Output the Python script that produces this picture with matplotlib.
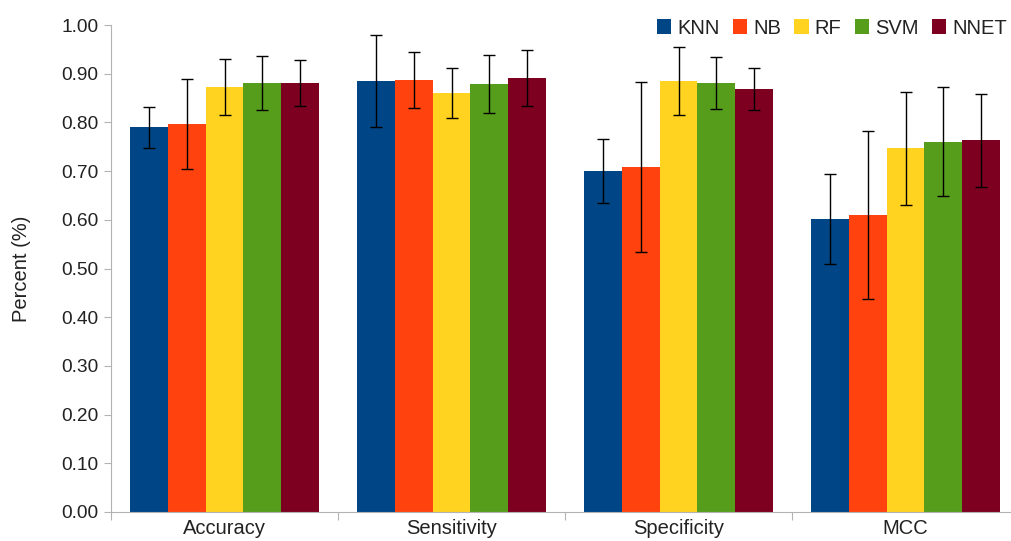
import numpy as np
import matplotlib
matplotlib.use("Agg")
import matplotlib.pyplot as plt
from matplotlib.patches import Patch

plt.rcParams['font.family'] = ['Liberation Sans', 'DejaVu Sans']

# Metric groups and classifiers
metrics = ["Accuracy", "Sensitivity", "Specificity", "MCC"]
models = ["KNN", "NB", "RF", "SVM", "NNET"]
colors = ["#004586", "#ff420e", "#ffd320", "#579d1c", "#7e0021"]

# mean score per classifier, one list per metric
knn = [0.790, 0.885, 0.700, 0.602]
nb = [0.797, 0.887, 0.708, 0.610]
rf = [0.873, 0.860, 0.885, 0.747]
svm = [0.881, 0.879, 0.881, 0.760]
nnet = [0.881, 0.891, 0.868, 0.763]

# standard deviations
knn_sd = [0.042, 0.095, 0.066, 0.092]
nb_sd = [0.093, 0.057, 0.175, 0.172]
rf_sd = [0.058, 0.051, 0.070, 0.116]
svm_sd = [0.055, 0.060, 0.054, 0.112]
nnet_sd = [0.047, 0.058, 0.043, 0.095]

means = [knn, nb, rf, svm, nnet]
sds = [knn_sd, nb_sd, rf_sd, svm_sd, nnet_sd]

W, H = 1012, 541
fig = plt.figure(figsize=(W / 100, H / 100), dpi=100)
ax = fig.add_axes([111 / W, 29 / H, 908 / W, 487 / H])

bw = 0.167
x = np.arange(len(metrics)) + 0.5
for i, (m, s) in enumerate(zip(means, sds)):
    pos = x + (i - 2) * bw
    ax.bar(pos, m, width=bw, color=colors[i], zorder=2)
    ax.errorbar(pos, m, yerr=s, fmt="none", ecolor="black", elinewidth=1,
                capsize=4, capthick=1, zorder=3)

ax.set_xlim(0, len(metrics))
ax.set_ylim(0, 1.0)
ax.set_yticks(np.arange(0, 1.01, 0.1))
ax.set_yticklabels([f"{v:.2f}" for v in np.arange(0, 1.01, 0.1)])

# separators between groups as major ticks, names on minor ticks
ax.set_xticks(np.arange(0, len(metrics) + 1))
ax.set_xticklabels([])
ax.set_xticks(x, minor=True)
ax.set_xticklabels(metrics, minor=True)
ax.tick_params(axis="x", which="minor", length=0, labelsize=14.5, pad=5)
ax.tick_params(axis="x", which="major", length=6, color="#b3b3b3")
ax.tick_params(axis="y", length=5, color="#b3b3b3", labelsize=13.8, pad=4,
               labelcolor="#222222")
ax.tick_params(axis="x", which="both", labelcolor="#222222")

for side in ["top", "right"]:
    ax.spines[side].set_visible(False)
for side in ["left", "bottom"]:
    ax.spines[side].set_color("#b3b3b3")

ax.set_ylabel("Percent (%)", fontsize=14.5, color="#222222", labelpad=22)

handles = [Patch(facecolor=c, label=n) for c, n in zip(colors, models)]
fig.legend(handles=handles, ncol=5, loc="center right",
           bbox_to_anchor=(1007 / W, 1 - 28 / H), frameon=False,
           fontsize=14.5, handlelength=0.72, handleheight=0.72,
           handletextpad=0.3, columnspacing=0.65, borderaxespad=0,
           borderpad=0, labelcolor="#222222")

fig.savefig("out.png", dpi=100)
